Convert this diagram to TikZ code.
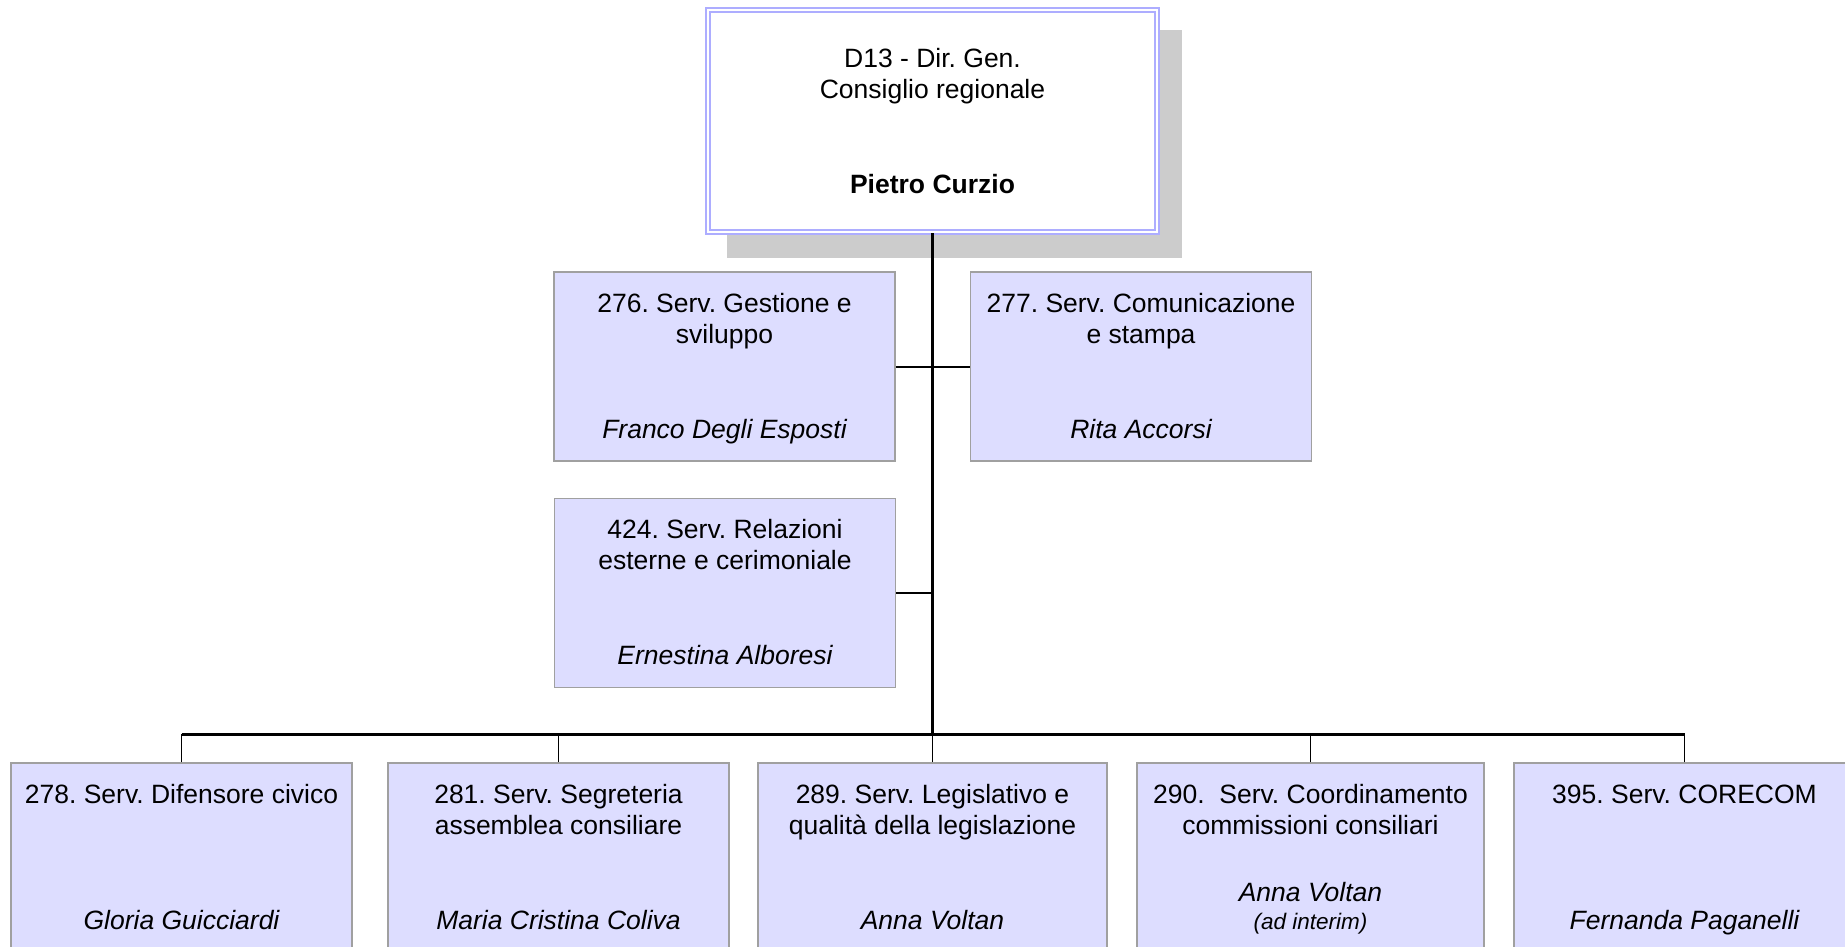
\documentclass[tikz,border=0pt]{standalone}
\usepackage{fontspec}
\setmainfont{Liberation Sans}
\usetikzlibrary{positioning, shadows}
\frenchspacing

\definecolor{unitfill}{HTML}{DDDDFF}
\definecolor{unitline}{HTML}{A0A0A0}
\definecolor{headline}{HTML}{ADADFF}
\definecolor{shadowgray}{HTML}{CCCCCC}

\tikzset{
  unit/.style={draw=unitline, line width=1.5pt, fill=unitfill,
    minimum width=341pt, minimum height=189pt, inner sep=0pt},
  head/.style={draw=headline, line width=2.6pt, double=white, double distance=1.6pt,
    fill=white, minimum width=449pt, minimum height=222pt, inner sep=0pt,
    drop shadow={shadow xshift=22pt, shadow yshift=-23pt, fill=shadowgray,
      draw=shadowgray, line width=6pt, opacity=1}},
  txt/.style={anchor=base, inner sep=0pt,
    font=\fontsize{26.5}{31}\selectfont},
  person/.style={txt, font=\fontsize{26.5}{31}\selectfont\itshape},
  trunk/.style={line width=3pt},
  link/.style={line width=2pt},
  bus/.style={line width=2.5pt},
  drop/.style={line width=1.6pt},
}

% lines of a title, first baseline on the node's base
\newcommand{\lines}[1]{\begin{tabular}[t]{@{}c@{}}#1\end{tabular}}

% box of one service: options, name, centre, title, person
\newcommand{\unitbox}[5][]{%
  \node[unit, #1] (#2) at (#3) {};
  \node[txt] (#2-title) at ([yshift=54.5pt]#2.center) {\lines{#4}};
  \node[person] (#2-name) at ([yshift=-71.5pt]#2.center) {#5};
}

\begin{document}
\begin{tikzpicture}[x=1pt, y=-1pt]

    \useasboundingbox (0,0) rectangle (1845,946);
    \clip (0,0) rectangle (1845,946);

    % directorate
    \node[head] (d13) at (932.5,121) {};
    \node[txt] (d13-title) at ([yshift=54pt]d13.center) {\lines{D13 - Dir. Gen.\\Consiglio regionale}};
    \node[txt, font=\fontsize{26.5}{31}\selectfont\bfseries] (d13-name) at ([yshift=-72pt]d13.center) {Pietro Curzio};

    % staff services
    \unitbox{s276}{724.5,366.5}{276. Serv. Gestione e\\sviluppo}{Franco Degli Esposti}
    \unitbox{s277}{1141,366.5}{277. Serv. Comunicazione\\e stampa}{Rita Accorsi}
    \unitbox{s424}{725,593}{424. Serv. Relazioni\\esterne e cerimoniale}{Ernestina Alboresi}

    % line services
    \unitbox{s278}{181.5,857.5}{278. Serv. Difensore civico}{Gloria Guicciardi}
    \unitbox{s281}{558.5,857.5}{281. Serv. Segreteria\\assemblea consiliare}{Maria Cristina Coliva}
    \unitbox[minimum width=349pt]{s289}{932.5,857.5}{289. Serv. Legislativo e\\qualità della legislazione}{Anna Voltan}
    \unitbox[minimum width=347pt]{s290}{1310.5,857.5}{290.\ \ Serv. Coordinamento\\commissioni consiliari}{\begin{tabular}[b]{@{}c@{}}Anna Voltan\\[-3.5pt]{\fontsize{22.5}{25}\selectfont(ad interim)}\end{tabular}}
    \unitbox{s395}{1684.5,857.5}{395. Serv. CORECOM}{Fernanda Paganelli}

    \coordinate (bus) at ([yshift=28pt]s289.north);

    \draw[trunk] (d13.south) -- (bus);
    \draw[link] (s276.east) -- (s277.west);
    \draw[link] (s424.east) -- (s424.east -| bus);
    \draw[bus] (s278.north |- bus) -- (s395.north |- bus);
    \foreach \s in {s278,s281,s289,s290,s395}
        \draw[drop] (\s.north) -- (\s.north |- bus);

\end{tikzpicture}
\end{document}
